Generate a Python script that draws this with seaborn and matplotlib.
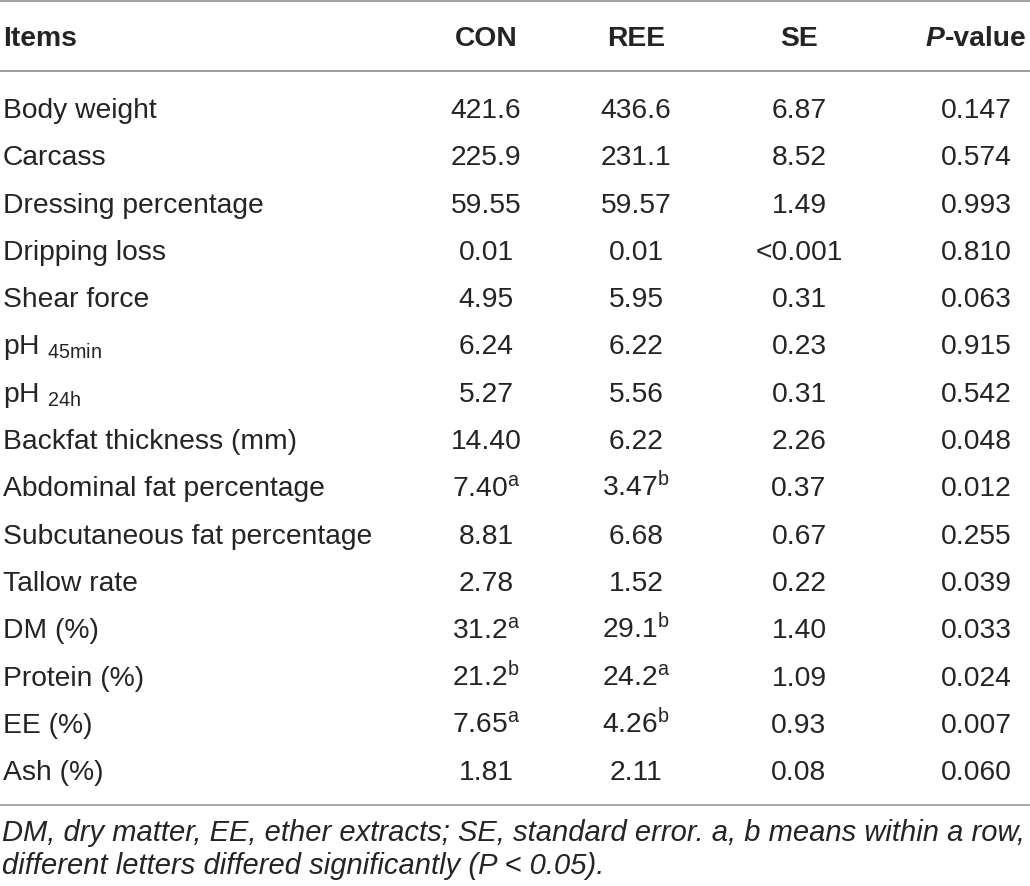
import matplotlib
matplotlib.use("Agg")
import matplotlib.pyplot as plt
import seaborn as sns

# ---- data ----
columns = ["Items", "CON", "REE", "SE", "P-value"]
items = ["Body weight", "Carcass", "Dressing percentage", "Dripping loss",
         "Shear force", "pH|45min", "pH|24h", "Backfat thickness (mm)",
         "Abdominal fat percentage", "Subcutaneous fat percentage",
         "Tallow rate", "DM (%)", "Protein (%)", "EE (%)", "Ash (%)"]
con = ["421.6", "225.9", "59.55", "0.01", "4.95", "6.24", "5.27", "14.40",
       "7.40", "8.81", "2.78", "31.2", "21.2", "7.65", "1.81"]
con_sup = ["", "", "", "", "", "", "", "", "a", "", "", "a", "b", "a", ""]
ree = ["436.6", "231.1", "59.57", "0.01", "5.95", "6.22", "5.56", "6.22",
       "3.47", "6.68", "1.52", "29.1", "24.2", "4.26", "2.11"]
ree_sup = ["", "", "", "", "", "", "", "", "b", "", "", "b", "a", "b", ""]
se = ["6.87", "8.52", "1.49", "<0.001", "0.31", "0.23", "0.31", "2.26",
      "0.37", "0.67", "0.22", "1.40", "1.09", "0.93", "0.08"]
pval = ["0.147", "0.574", "0.993", "0.810", "0.063", "0.915", "0.542", "0.048",
        "0.012", "0.255", "0.039", "0.033", "0.024", "0.007", "0.060"]
footnote = ["DM, dry matter, EE, ether extracts; SE, standard error. a, b means within a row,",
            "different letters differed significantly (P < 0.05)."]

# ---- style ----
sns.set_theme(style="white")
plt.rcParams["font.family"] = ["Liberation Sans", "DejaVu Sans"]
plt.rcParams["mathtext.fontset"] = "custom"
plt.rcParams["mathtext.rm"] = "Liberation Sans"
plt.rcParams["mathtext.it"] = "Liberation Sans:italic"
plt.rcParams["mathtext.bf"] = "Liberation Sans:bold"

TXT = "#262324"
RULE = "#9b9b9b"
FS = 20.3

W, H = 1030, 886
fig = plt.figure(figsize=(W / 100, H / 100), dpi=100)
ax = fig.add_axes([0, 0, 1, 1])
ax.set_xlim(0, W)
ax.set_ylim(H, 0)
ax.axis("off")

col_x = [3, 486, 636, 799, 976]
header_y = 46
row0 = 118
dy = 47.3

# rules
for y, lw in [(1.2, 1.3), (71, 1.4), (805, 1.2)]:
    ax.axhline(y, color=RULE, lw=lw)

# header
ax.text(col_x[0], header_y, columns[0], ha="left", va="baseline",
        fontsize=FS, fontweight="bold", color=TXT)
for j in (1, 2, 3):
    ax.text(col_x[j], header_y, columns[j], ha="center", va="baseline",
            fontsize=FS, fontweight="bold", color=TXT)
# P-value header: bold italic P + bold "-value", centered as a whole
r = fig.canvas.get_renderer()
pa, pb = columns[4].split("-", 1)
tp = ax.text(0, header_y, pa, fontsize=FS, fontweight="bold", fontstyle="italic",
             color=TXT, va="baseline", ha="left")
tv = ax.text(0, header_y, "-" + pb, fontsize=FS, fontweight="bold",
             color=TXT, va="baseline", ha="left")
wp = tp.get_window_extent(r).width
wv = tv.get_window_extent(r).width
x0 = col_x[4] - (wp + wv) / 2
tp.set_x(x0)
tv.set_x(x0 + wp)


def fmt(v, s):
    return r"$\mathregular{%s^{%s}}$" % (v, s) if s else v


def item_label(s):
    if "|" in s:
        a, b = s.split("|")
        return a + r"$\mathregular{\ _{%s}}$" % b
    return s


for i in range(len(items)):
    y = row0 + dy * i
    ax.text(col_x[0], y, item_label(items[i]), ha="left", va="baseline",
            fontsize=FS, color=TXT)
    ax.text(col_x[1], y, fmt(con[i], con_sup[i]), ha="center", va="baseline",
            fontsize=FS, color=TXT)
    ax.text(col_x[2], y, fmt(ree[i], ree_sup[i]), ha="center", va="baseline",
            fontsize=FS, color=TXT)
    ax.text(col_x[3], y, se[i], ha="center", va="baseline", fontsize=FS, color=TXT)
    ax.text(col_x[4], y, pval[i], ha="center", va="baseline", fontsize=FS, color=TXT)

for k, line in enumerate(footnote):
    ax.text(2, 841 + 33 * k, line, ha="left", va="baseline", fontsize=21,
            fontstyle="italic", color=TXT)

fig.savefig("out.png", dpi=100, facecolor="white")
